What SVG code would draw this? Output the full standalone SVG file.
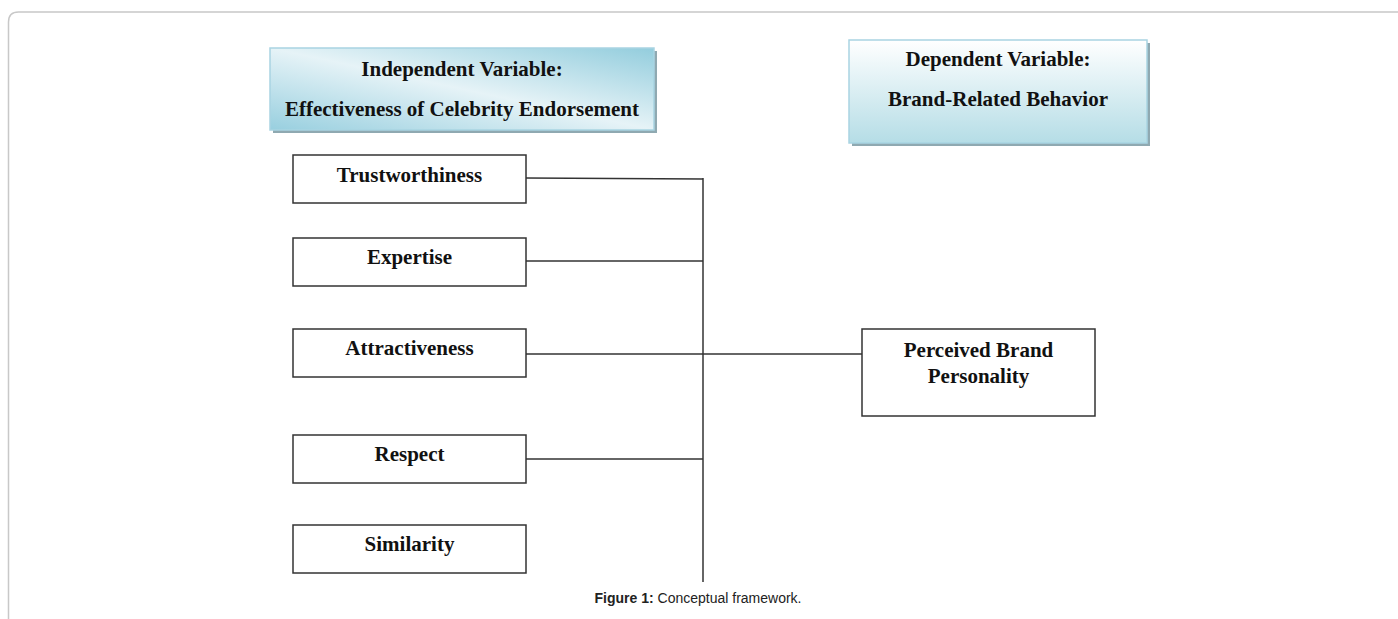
<svg xmlns="http://www.w3.org/2000/svg" width="1398" height="619" viewBox="0 0 1398 619">
<defs>
<linearGradient id="gInd" x1="1" y1="0" x2="0" y2="1">
<stop offset="0" stop-color="#93cddd"/>
<stop offset="0.5" stop-color="#e6f3f7"/>
<stop offset="1" stop-color="#98cfdf"/>
</linearGradient>
<linearGradient id="gDep" x1="0" y1="0" x2="0" y2="1">
<stop offset="0" stop-color="#ffffff"/>
<stop offset="1" stop-color="#b5dde6"/>
</linearGradient>
</defs>
<style>
.frame{fill:none;stroke:#c8c8c8;stroke-width:1.5}
.box{fill:#ffffff;stroke:#333333;stroke-width:1.5}
.hdr{stroke:#a9d4e2;stroke-width:1.5}
.shadow{fill:#8fa9b1}
.t{font-family:"Liberation Serif","Times New Roman",serif;font-weight:bold;font-size:21px;fill:#111;text-anchor:middle}
.con{fill:none;stroke:#333333;stroke-width:1.5}
.cap{font-family:"Liberation Sans",Arial,sans-serif;font-size:14px;fill:#222;text-anchor:middle}
</style>
<rect width="1398" height="619" fill="#ffffff"/>
<path class="frame" d="M8.5 619 V22 Q8.5 12 18.5 12 H1398"/>
<g id="independent">
<rect class="shadow" x="273" y="51" width="384" height="82"/>
<rect class="hdr" x="270" y="48" width="384" height="82" fill="url(#gInd)"/>
<text class="t" x="462" y="76">Independent Variable:</text>
<text class="t" x="462" y="116">Effectiveness of Celebrity Endorsement</text>
</g>
<g id="dependent">
<rect class="shadow" x="852" y="43" width="298" height="103"/>
<rect class="hdr" x="849" y="40" width="298" height="103" fill="url(#gDep)"/>
<text class="t" x="998" y="66">Dependent Variable:</text>
<text class="t" x="998" y="106">Brand-Related Behavior</text>
</g>
<g id="connectors">
<line class="con" x1="526" y1="178" x2="703" y2="179"/>
<line class="con" x1="526" y1="261" x2="703" y2="261"/>
<line class="con" x1="526" y1="354" x2="862" y2="354"/>
<line class="con" x1="526" y1="459" x2="703" y2="459"/>
<line class="con" x1="703" y1="178" x2="703" y2="582"/>
</g>
<g id="trustworthiness">
<rect class="box" x="293" y="155" width="233" height="48"/>
<text class="t" x="409.5" y="182">Trustworthiness</text>
</g>
<g id="expertise">
<rect class="box" x="293" y="238" width="233" height="48"/>
<text class="t" x="409.5" y="264">Expertise</text>
</g>
<g id="attractiveness">
<rect class="box" x="293" y="329" width="233" height="48"/>
<text class="t" x="409.5" y="355">Attractiveness</text>
</g>
<g id="respect">
<rect class="box" x="293" y="435" width="233" height="48"/>
<text class="t" x="409.5" y="461">Respect</text>
</g>
<g id="similarity">
<rect class="box" x="293" y="525" width="233" height="48"/>
<text class="t" x="409.5" y="551">Similarity</text>
</g>
<g id="perceived">
<rect class="box" x="862" y="329" width="233" height="87"/>
<text class="t" x="978.5" y="357">Perceived Brand</text>
<text class="t" x="978.5" y="383">Personality</text>
</g>
<text class="cap" x="698" y="603"><tspan font-weight="bold">Figure 1:</tspan> Conceptual framework.</text>
</svg>
